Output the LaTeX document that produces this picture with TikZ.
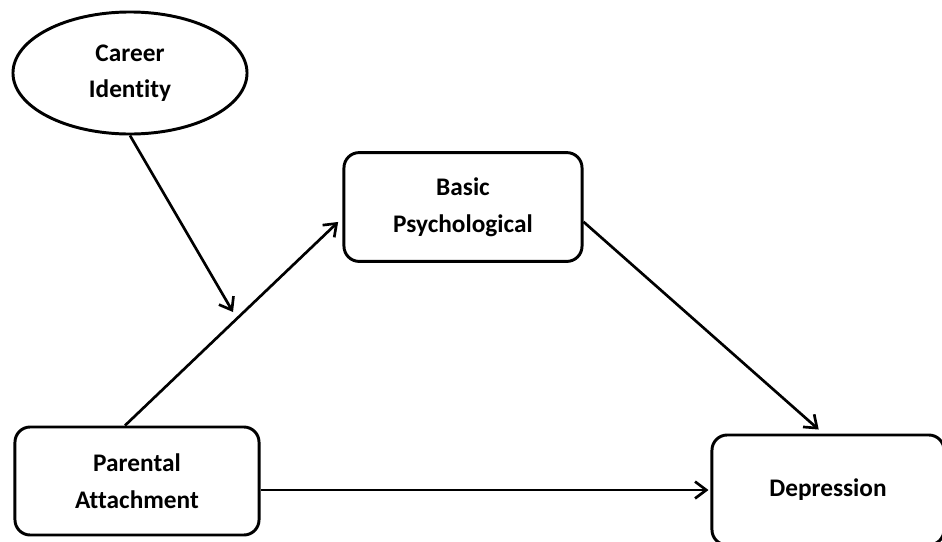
\documentclass[tikz,border=0pt]{standalone}
\usepackage{fontspec}
\setmainfont{Carlito}[Ligatures=NoCommon]
\usepackage{xcolor}
\usepackage{tikz}
\usetikzlibrary{arrows.meta,shapes.geometric}
\definecolor{ink}{HTML}{000000}
\definecolor{paper}{HTML}{FFFFFF}
\tikzset{
  pathLine/.style={draw=ink, line width=1.9pt},
  pathArrow/.style={pathLine, -{Straight Barb[length=8pt,width=12pt,line width=1.9pt]}},
  pathBox/.style={draw=ink, line width=2.1pt, rounded corners=0.38cm, align=center,
    inner sep=0pt, text=ink, font=\bfseries\fontsize{18}{26}\selectfont},
  pathOval/.style={pathBox, ellipse, rounded corners=0pt}
}

\begin{document}
\begin{tikzpicture}[x=0.025cm, y=-0.025cm]
  \useasboundingbox[fill=paper] (0,0) rectangle (942,541);

  \node[pathOval, minimum width=5.85cm, minimum height=3.05cm] (career) at (130,73) {Career\\Identity};
  \node[pathBox, minimum width=5.95cm, minimum height=2.72cm] (basic) at (463,207) {Basic\\Psychological};
  \node[pathBox, minimum width=6.1cm, minimum height=2.7cm] (parental) at (137,481) {Parental\\Attachment};
  \node[pathBox, minimum width=5.8cm, minimum height=2.75cm] (depression) at (828,490) {Depression};

  \coordinate (meet) at (233,312);

  \draw[pathArrow, shorten >=0.15cm] ([xshift=-0.3cm]parental.north) -- ([yshift=-0.27cm]basic.west);
  \draw[pathArrow] (career.south) -- (meet);
  \draw[pathArrow, shorten >=0.15cm] ([yshift=-0.37cm]basic.east) -- ([xshift=-0.12cm]depression.north);
  \draw[pathArrow, shorten >=0.05cm] (parental.east |- depression.west) -- (depression.west);
\end{tikzpicture}
\end{document}
